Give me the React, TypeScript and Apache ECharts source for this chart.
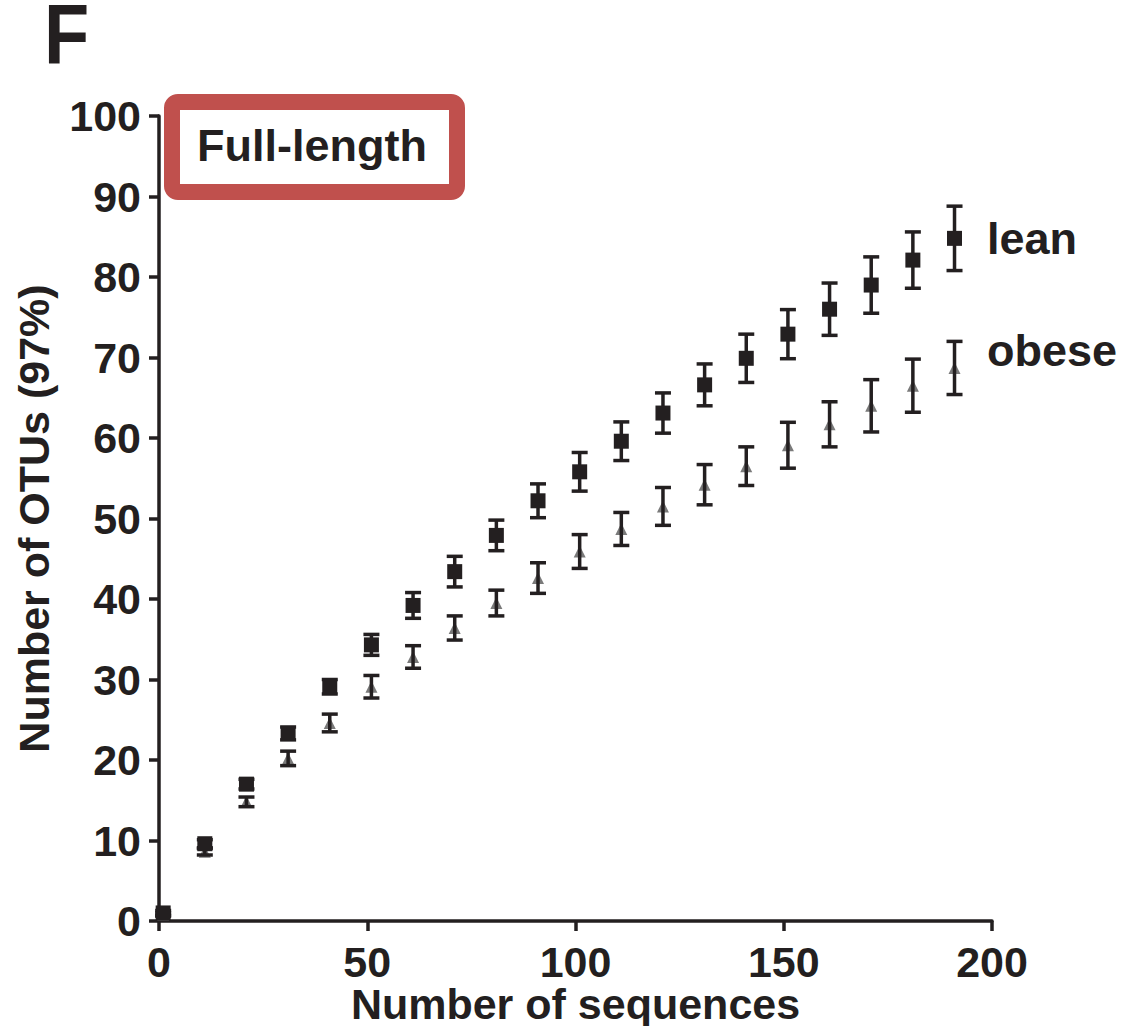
import React, { useEffect, useRef } from "react";
import * as echarts from "echarts";

const xs = [1, 11, 21, 31, 41, 51, 61, 71, 81, 91, 101, 111, 121, 131, 141, 151, 161, 171, 181, 191];
const leanMean = [1.0, 9.6, 17.0, 23.3, 29.1, 34.3, 39.2, 43.4, 47.9, 52.2, 55.8, 59.6, 63.1, 66.6, 69.9, 72.9, 76.0, 79.0, 82.1, 84.8];
const leanErr = [0.3, 0.5, 0.6, 0.8, 0.9, 1.3, 1.6, 1.9, 1.9, 2.1, 2.4, 2.4, 2.5, 2.6, 3.0, 3.05, 3.25, 3.5, 3.5, 4.0];
const obeseMean = [0.8, 8.6, 14.8, 20.2, 24.6, 29.1, 32.8, 36.4, 39.5, 42.6, 45.9, 48.7, 51.5, 54.2, 56.5, 59.1, 61.7, 64.0, 66.5, 68.7];
const obeseErr = [0.2, 0.4, 0.6, 0.9, 1.1, 1.4, 1.4, 1.5, 1.6, 1.9, 2.1, 2.05, 2.35, 2.5, 2.4, 2.85, 2.8, 3.25, 3.3, 3.3];
const xTicks = { min: 0, max: 200, interval: 50 };
const yTicks = { min: 0, max: 100, interval: 10 };
const panelLetter = "F";
const boxLabel = "Full-length";
const seriesNames = ["lean", "obese"];
const xTitle = "Number of sequences";
const yTitle = "Number of OTUs (97%)";

const INK = "#231f20";
const FONT = "'Liberation Sans', Arial, sans-serif";

function errData(mean: number[], err: number[]) {
  return xs.map((x, i) => [x, mean[i] - err[i], mean[i] + err[i]]);
}

function errRender(params: any, api: any) {
  const x = api.value(0);
  const lo = api.coord([x, api.value(1)]);
  const hi = api.coord([x, api.value(2)]);
  const hw = 8;
  const style = { stroke: INK, lineWidth: 3.5 };
  return {
    type: "group",
    children: [
      { type: "line", shape: { x1: lo[0], y1: lo[1], x2: hi[0], y2: hi[1] }, style },
      { type: "line", shape: { x1: lo[0] - hw, y1: lo[1], x2: lo[0] + hw, y2: lo[1] }, style },
      { type: "line", shape: { x1: hi[0] - hw, y1: hi[1], x2: hi[0] + hw, y2: hi[1] }, style },
    ],
  };
}

export default function App() {
  const ref = useRef<HTMLDivElement>(null);
  useEffect(() => {
    if (!ref.current) return;
    const chart = echarts.init(ref.current, null, { renderer: "svg" });
    const textStyle = { color: INK, fontSize: 43, fontWeight: "bold", fontFamily: FONT };
    chart.setOption({
      animation: false,
      backgroundColor: "#ffffff",
      grid: {
        left: 159,
        right: 132,
        top: 116,
        bottom: 105,
        containLabel: false,
        outerBoundsMode: "none",
      },
      xAxis: {
        type: "value",
        min: xTicks.min,
        max: xTicks.max,
        interval: xTicks.interval,
        name: xTitle,
        nameLocation: "middle",
        nameGap: 63,
        nameMoveOverlap: false,
        nameTextStyle: { ...textStyle, lineHeight: 40 },
        axisLine: { show: true, onZero: false, lineStyle: { color: INK, width: 3.5 } },
        axisTick: { show: true, length: 10, lineStyle: { color: INK, width: 3.5 } },
        axisLabel: { ...textStyle, lineHeight: 36, margin: 23 },
        splitLine: { show: false },
      },
      yAxis: {
        type: "value",
        min: yTicks.min,
        max: yTicks.max,
        interval: yTicks.interval,
        name: yTitle,
        nameLocation: "middle",
        nameGap: 104,
        nameRotate: 90,
        nameMoveOverlap: false,
        nameTextStyle: textStyle,
        axisLine: { show: true, onZero: false, lineStyle: { color: INK, width: 3.5 } },
        axisTick: { show: true, length: 10, lineStyle: { color: INK, width: 3.5 } },
        axisLabel: { ...textStyle, margin: 18 },
        splitLine: { show: false },
      },
      series: [
        {
          name: seriesNames[1] + " marker",
          type: "scatter",
          symbol: "triangle",
          symbolSize: [12, 12],
          itemStyle: { color: "#7a7a7a", opacity: 1 },
          data: xs.map((x, i) => [x, obeseMean[i]]),
          z: 2,
        },
        {
          name: seriesNames[1] + " err",
          type: "custom",
          renderItem: errRender,
          data: errData(obeseMean, obeseErr),
          z: 3,
        },
        {
          name: seriesNames[0] + " err",
          type: "custom",
          renderItem: errRender,
          data: errData(leanMean, leanErr),
          z: 3,
        },
        {
          name: seriesNames[0],
          type: "scatter",
          symbol: "rect",
          symbolSize: [15, 15],
          itemStyle: { color: INK, opacity: 1 },
          data: xs.map((x, i) => [x, leanMean[i]]),
          z: 4,
        },
      ],
      graphic: [
        {
          type: "text",
          x: 44,
          y: 34,
          scaleY: 1.16,
          style: {
            text: panelLetter,
            fill: INK,
            font: `bold 74px ${FONT}`,
            lineHeight: 56,
            textVerticalAlign: "middle",
          },
        },
        {
          type: "rect",
          shape: { x: 172, y: 102, width: 285, height: 90, r: 6 },
          style: { fill: "#ffffff", stroke: "#c0504d", lineWidth: 16 },
          z: 10,
        },
        {
          type: "text",
          x: 312,
          y: 145,
          style: {
            text: boxLabel,
            fill: INK,
            font: `bold 45px ${FONT}`,
            textAlign: "center",
            textVerticalAlign: "middle",
          },
          z: 11,
        },
        {
          type: "text",
          x: 987,
          y: 238,
          style: { text: seriesNames[0], fill: INK, font: `bold 45px ${FONT}`, textVerticalAlign: "middle" },
        },
        {
          type: "text",
          x: 987,
          y: 350,
          style: { text: seriesNames[1], fill: INK, font: `bold 45px ${FONT}`, textVerticalAlign: "middle" },
        },
      ],
    });
    return () => chart.dispose();
  }, []);
  return (
    <div
      ref={ref}
      style={{ position: "fixed", left: 0, top: 0, width: 1124, height: 1026, background: "#fff" }}
    />
  );
}
